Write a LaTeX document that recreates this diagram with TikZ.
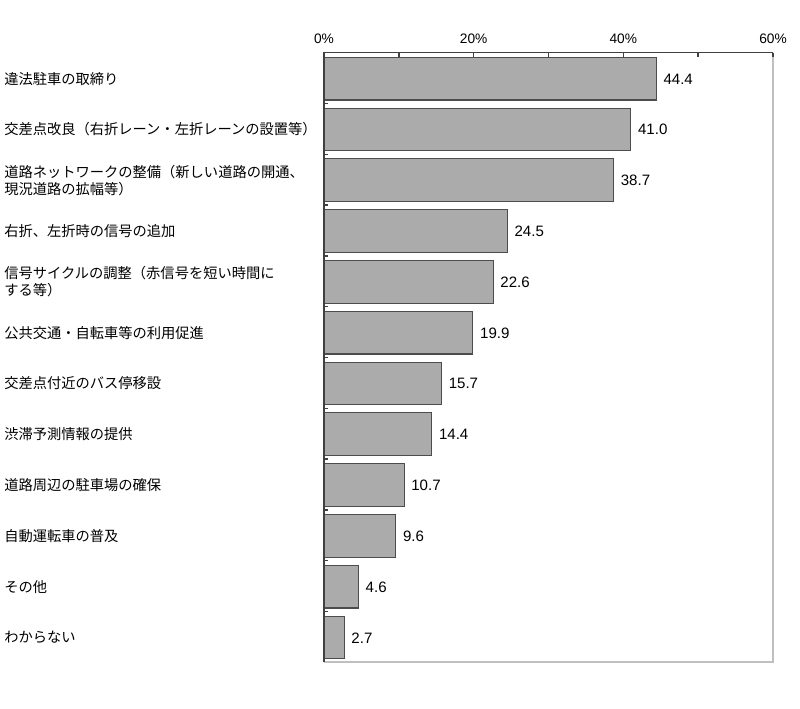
\documentclass[tikz,border=0pt]{standalone}
\usepackage{fontspec}
\setmainfont{Liberation Sans}
\newfontfamily\jp{Noto Sans CJK JP}
\begin{document}
\begin{tikzpicture}[x=0.75pt,y=-0.75pt,
  bar/.style={draw=black!70, fill=black!33, line width=0.8pt},
  cat/.style={anchor=west, align=left, inner sep=0pt, font=\jp\fontsize{10.7}{12.75}\selectfont},
  val/.style={anchor=west, inner sep=0pt, font=\fontsize{11.3}{13}\selectfont},
  ticklab/.style={anchor=center, inner sep=0pt, font=\fontsize{10.3}{12}\selectfont},
  axis/.style={draw=black!75, line width=1pt},
  frame/.style={draw=black!25, line width=1.3pt}]
\useasboundingbox (0,0) rectangle (800,708);
% frame
\draw[frame] (773,52.7) -- (773,662) -- (324,662);
% bars and values
\foreach \i/\v in {0/44.4,1/41.0,2/38.7,3/24.5,4/22.6,5/19.9,6/15.7,7/14.4,8/10.7,9/9.6,10/4.6,11/2.7}{
  \draw[bar] (324,57.3+50.8*\i) rectangle ({324+7.483*\v},100+50.8*\i);
  \node[val] (v\i) at ({331+7.483*\v},79+50.8*\i) {\v};
}
% axes
\draw[axis] (324,662) -- (324,52.7) -- (773,52.7);
\foreach \k in {0,...,6} \draw[axis] (324+74.83*\k,52.7) -- ++(0,4);
\foreach \i in {1,...,11} \draw[axis] (324,52.7+50.8*\i) -- ++(4,0);
% tick labels
\node[ticklab] (t0) at (324,39) {0\%};
\node[ticklab] (t20) at (473.7,39) {20\%};
\node[ticklab] (t40) at (623.3,39) {40\%};
\node[ticklab] (t60) at (773,39) {60\%};
% category labels
\node[cat] (c0) at (4,78.6) {違法駐車の取締り};
\node[cat] (c1) at (4,129.4) {交差点改良（右折レーン・左折レーンの設置等）};
\node[cat] (c2) at (4,180.2) {道路ネットワークの整備（新しい道路の開通、\\現況道路の拡幅等）};
\node[cat] (c3) at (4,231.0) {右折、左折時の信号の追加};
\node[cat] (c4) at (4,281.8) {信号サイクルの調整（赤信号を短い時間に\\する等）};
\node[cat] (c5) at (4,332.6) {公共交通・自転車等の利用促進};
\node[cat] (c6) at (4,383.4) {交差点付近のバス停移設};
\node[cat] (c7) at (4,434.2) {渋滞予測情報の提供};
\node[cat] (c8) at (4,485.0) {道路周辺の駐車場の確保};
\node[cat] (c9) at (4,535.8) {自動運転車の普及};
\node[cat] (c10) at (4,586.6) {その他};
\node[cat] (c11) at (4,637.4) {わからない};
\end{tikzpicture}
\end{document}
